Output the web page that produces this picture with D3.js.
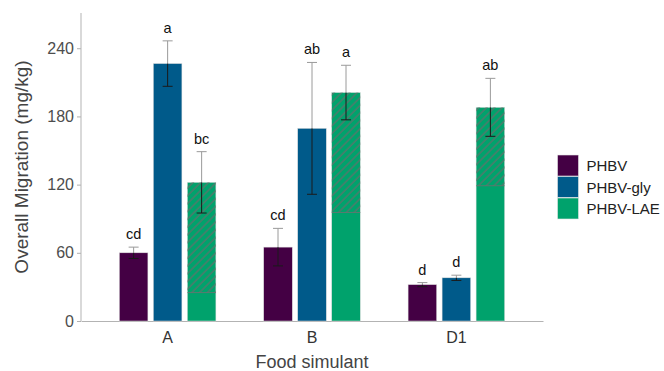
<!DOCTYPE html>
<html lang="en">
<head>
  <meta charset="UTF-8">
  <title>Overall migration by food simulant</title>
  <script src="https://cdn.jsdelivr.net/npm/d3@7"></script>
</head>

<style>
body { margin: 0; background: white; }
text { font-family: "Liberation Sans", Arial, sans-serif; }
</style>

<body>

  <svg width="664" height="371"></svg>

  <script>

    // food simulants on the x axis
    var simulants = ["A", "B", "D1"]
    var films = ["PHBV", "PHBV-gly", "PHBV-LAE"]

    // mean overall migration (mg/kg), one array per film
    var phbv = [60, 65, 32]
    var phbvGly = [226.5, 169.5, 38]
    var phbvLae = [122, 201, 188]

    // error bars (+/- sd)
    var phbvSd = [5, 16.5, 1.8]
    var phbvGlySd = [20, 58, 2.3]
    var phbvLaeSd = [27, 24, 25.5]

    // lower edge of the hatched part of the PHBV-LAE bars
    var laeHatchFrom = [25, 95.5, 119]

    // letters from the significance test
    var phbvLetters = ["cd", "cd", "d"]
    var phbvGlyLetters = ["a", "ab", "d"]
    var phbvLaeLetters = ["bc", "a", "ab"]

    var yTicks = [0, 60, 120, 180, 240]

    var colors = ["#440044", "#005a8a", "#00a26c"]

    var means = [phbv, phbvGly, phbvLae]
    var sds = [phbvSd, phbvGlySd, phbvLaeSd]
    var letters = [phbvLetters, phbvGlyLetters, phbvLaeLetters]

    var data = []
    simulants.forEach(function(s, i) {
      films.forEach(function(f, j) {
        data.push({
          sim: s, film: f, mean: means[j][i], sd: sds[j][i], letter: letters[j][i],
          hatch: j == 2 ? laeHatchFrom[i] : null
        })
      })
    })

    var svg = d3.select('svg')

    var x = d3.scaleBand()
      .domain(simulants)
      .range([81, 543])
      .paddingInner(0)
      .paddingOuter(0.1)

    var xInner = d3.scaleBand()
      .domain(films)
      .range([x.bandwidth() / 2 - 51, x.bandwidth() / 2 + 51])
      .paddingInner(0.16)
      .paddingOuter(0.08)

    var y = d3.scaleLinear()
      .domain([0, 271])
      .range([321, 13])

    var color = d3.scaleOrdinal().domain(films).range(colors)

    // hatch pattern
    var pat = svg.append('defs').append('pattern')
      .attr('id', 'hatch')
      .attr('patternUnits', 'userSpaceOnUse')
      .attr('width', 5.5)
      .attr('height', 5.5)
      .attr('patternTransform', 'rotate(45)')
    pat.append('line')
      .attr('x1', 1).attr('y1', 0).attr('x2', 1).attr('y2', 5.5)
      .attr('stroke', '#6b6b6b')
      .attr('stroke-width', 1.1)

    // axes (drawn by hand, ggplot classic look)
    var yAxis = svg.append('g')
      .attr('transform', 'translate(81,0)')
      .call(d3.axisLeft(y).tickValues(yTicks).tickSize(4).tickPadding(3))
    yAxis.select('.domain').remove()
    yAxis.selectAll('.tick line').attr('stroke', '#b0b0b0')
    yAxis.selectAll('.tick text')
      .attr('fill', '#4d4d4d')
      .style('font-size', '16px')
      .style('font-family', '"Liberation Sans", Arial, sans-serif')

    svg.append('line')
      .attr('x1', 81).attr('x2', 81)
      .attr('y1', y.range()[1]).attr('y2', y(0))
      .attr('stroke', '#b3b3b3')

    var xAxis = svg.append('g')
      .attr('transform', 'translate(0,' + y(0) + ')')
      .call(d3.axisBottom(x).tickSize(0).tickPadding(11))
    xAxis.select('.domain').attr('stroke', '#b3b3b3')
    xAxis.selectAll('.tick text')
      .attr('fill', '#333')
      .style('font-size', '16px')
      .style('font-family', '"Liberation Sans", Arial, sans-serif')

    var groups = svg.append('g')
      .selectAll('g')
      .data(data)
      .enter()
      .append('g')
      .attr('transform', function(d) { return 'translate(' + (x(d.sim) + xInner(d.film)) + ',0)' })

    var bw = xInner.bandwidth()

    groups.append('rect')
      .attr('x', 0)
      .attr('y', function(d) { return y(d.mean) })
      .attr('width', bw)
      .attr('height', function(d) { return y(0) - y(d.mean) })
      .attr('fill', function(d) { return color(d.film) })
      .attr('stroke', '#dcdcdc')
      .attr('stroke-width', 0.5)

    var hatched = groups.filter(function(d) { return d.hatch != null })
    hatched.append('rect')
      .attr('x', 0)
      .attr('y', function(d) { return y(d.mean) })
      .attr('width', bw)
      .attr('height', function(d) { return y(d.hatch) - y(d.mean) })
      .attr('fill', 'url(#hatch)')
    hatched.append('line')
      .attr('x1', 0).attr('x2', bw)
      .attr('y1', function(d) { return y(d.hatch) })
      .attr('y2', function(d) { return y(d.hatch) })
      .attr('stroke', '#707070')
      .attr('stroke-width', 0.8)

    // error bars: light above the bar, dark inside it
    var cap = 5
    groups.append('line')
      .attr('x1', bw / 2).attr('x2', bw / 2)
      .attr('y1', function(d) { return y(d.mean + d.sd) })
      .attr('y2', function(d) { return y(d.mean) })
      .attr('stroke', '#9a9a9a')
    groups.append('line')
      .attr('x1', bw / 2 - cap).attr('x2', bw / 2 + cap)
      .attr('y1', function(d) { return y(d.mean + d.sd) })
      .attr('y2', function(d) { return y(d.mean + d.sd) })
      .attr('stroke', '#9a9a9a')
    groups.append('line')
      .attr('x1', bw / 2).attr('x2', bw / 2)
      .attr('y1', function(d) { return y(d.mean) })
      .attr('y2', function(d) { return y(d.mean - d.sd) })
      .attr('stroke', '#1a1a1a')
    groups.append('line')
      .attr('x1', bw / 2 - cap).attr('x2', bw / 2 + cap)
      .attr('y1', function(d) { return y(d.mean - d.sd) })
      .attr('y2', function(d) { return y(d.mean - d.sd) })
      .attr('stroke', '#1a1a1a')

    groups.append('text')
      .attr('x', bw / 2)
      .attr('y', function(d) { return y(d.mean + d.sd) - 8 })
      .attr('text-anchor', 'middle')
      .attr('fill', '#111')
      .style('font-size', '14.5px')
      .text(function(d) { return d.letter })

    // axis titles
    svg.append('text')
      .attr('x', 312)
      .attr('y', 368)
      .attr('text-anchor', 'middle')
      .attr('fill', '#444')
      .style('font-size', '18px')
      .text('Food simulant')

    svg.append('text')
      .attr('transform', 'translate(28,167) rotate(-90)')
      .attr('text-anchor', 'middle')
      .attr('fill', '#444')
      .style('font-size', '19px')
      .text('Overall Migration (mg/kg)')

    // legend
    var legend = svg.append('g')
      .selectAll('g')
      .data(films)
      .enter()
      .append('g')
      .attr('transform', function(d, i) { return 'translate(557.5,' + (155 + i * 21.5) + ')' })
    legend.append('rect')
      .attr('width', 21)
      .attr('height', 21)
      .attr('fill', function(d) { return color(d) })
      .attr('stroke', '#e6e6e6')
      .attr('stroke-width', 0.6)
    legend.append('text')
      .attr('x', 29)
      .attr('y', 16)
      .attr('fill', '#222')
      .style('font-size', '15px')
      .text(function(d) { return d })
  </script>

</body>
</html>
